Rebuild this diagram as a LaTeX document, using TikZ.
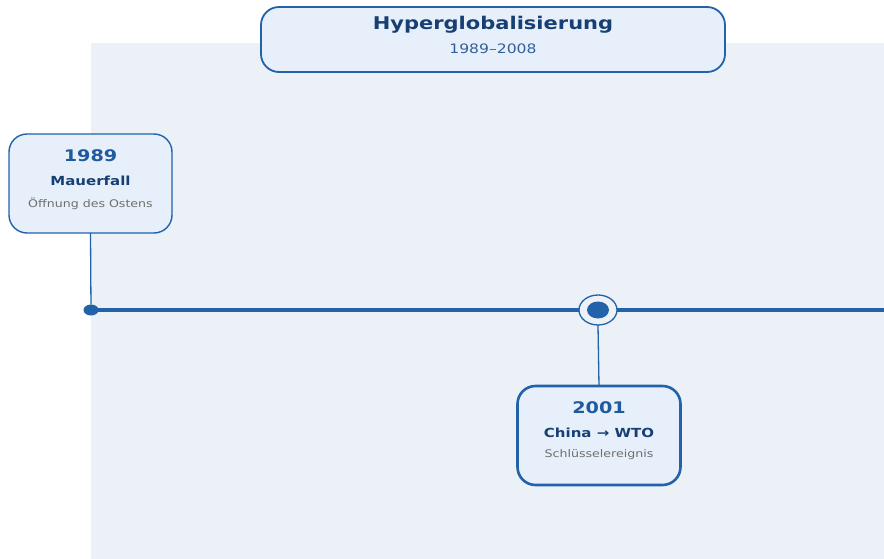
\documentclass[tikz,border=0pt]{standalone}
\usepackage{fontspec}
\setmainfont[FakeStretch=1.2]{DejaVu Sans}
\usetikzlibrary{positioning,calc,shapes.geometric}

\definecolor{panelbg}{HTML}{EBF1F7}
\definecolor{boxbg}{HTML}{E7F0FA}
\definecolor{linecol}{HTML}{2262A8}
\definecolor{darkblue}{HTML}{173F73}
\definecolor{midblue}{HTML}{1F5A9E}
\definecolor{greytext}{HTML}{6E6E6E}

\begin{document}
\begin{tikzpicture}[
    x=1pt, y=-1pt,
    every node/.style={inner sep=0pt, outer sep=0pt},
    titlebox/.style={rectangle, rounded corners=18pt, draw=linecol, line width=1.8pt,
        fill=boxbg, minimum width=464pt, minimum height=65pt},
    eventbox/.style={rectangle, rounded corners=18pt, draw=linecol, line width=1.4pt,
        fill=boxbg, minimum width=163pt, minimum height=99pt},
    keybox/.style={eventbox, line width=2.6pt},
    yeartext/.style={font=\bfseries\fontsize{16}{18}\selectfont, text=midblue},
    headtext/.style={font=\bfseries\fontsize{12.5}{14}\selectfont, text=darkblue},
    subtext/.style={font=\fontsize{10.5}{12}\selectfont, text=greytext},
    stem/.style={draw=linecol, line width=1.3pt},
]
\useasboundingbox (0,0) rectangle (884,559);

% Background panel
\fill[panelbg] (91,43) rectangle (884,559);

% Timeline
\coordinate (tstart) at (91,310);
\coordinate (tend) at (884,310);
\draw[linecol, line width=4pt] (tstart) -- (tend);

% Title
\node[titlebox] (title) at (493,39.5) {};
\node[font=\bfseries\fontsize{17.5}{20}\selectfont, text=darkblue] (titletxt) at (493,25) {Hyperglobalisierung};
\node[font=\fontsize{13}{15}\selectfont, text=midblue!80!gray] (period) at (493,48.5) {1989--2008};

% Event 1989
\node[eventbox] (ev1) at (90.5,183.5) {};
\node[yeartext] (y1) at (90.5,156) {1989};
\node[headtext] (h1) at (90.5,181) {Mauerfall};
\node[subtext] (s1) at (90.5,203.5) {Öffnung des Ostens};
\node[fill=linecol, ellipse, minimum width=15pt, minimum height=11pt] (d1) at (tstart) {};
\draw[stem] (ev1.south) -- (d1);

% Event 2001
\node[draw=linecol, line width=1.3pt, fill=panelbg, ellipse,
    minimum width=38pt, minimum height=30pt] (r2) at (598,310) {};
\node[fill=linecol, ellipse, minimum width=22pt, minimum height=17pt] (d2) at (598,310) {};
\node[keybox] (ev2) at (599,435.5) {};
\node[yeartext] (y2) at (599,408) {2001};
\node[headtext] (h2) at (599,433) {China → WTO};
\node[subtext] (s2) at (599,454.5) {Schlüsselereignis};
\draw[stem] (r2.south) -- (ev2.north);

\end{tikzpicture}
\end{document}
